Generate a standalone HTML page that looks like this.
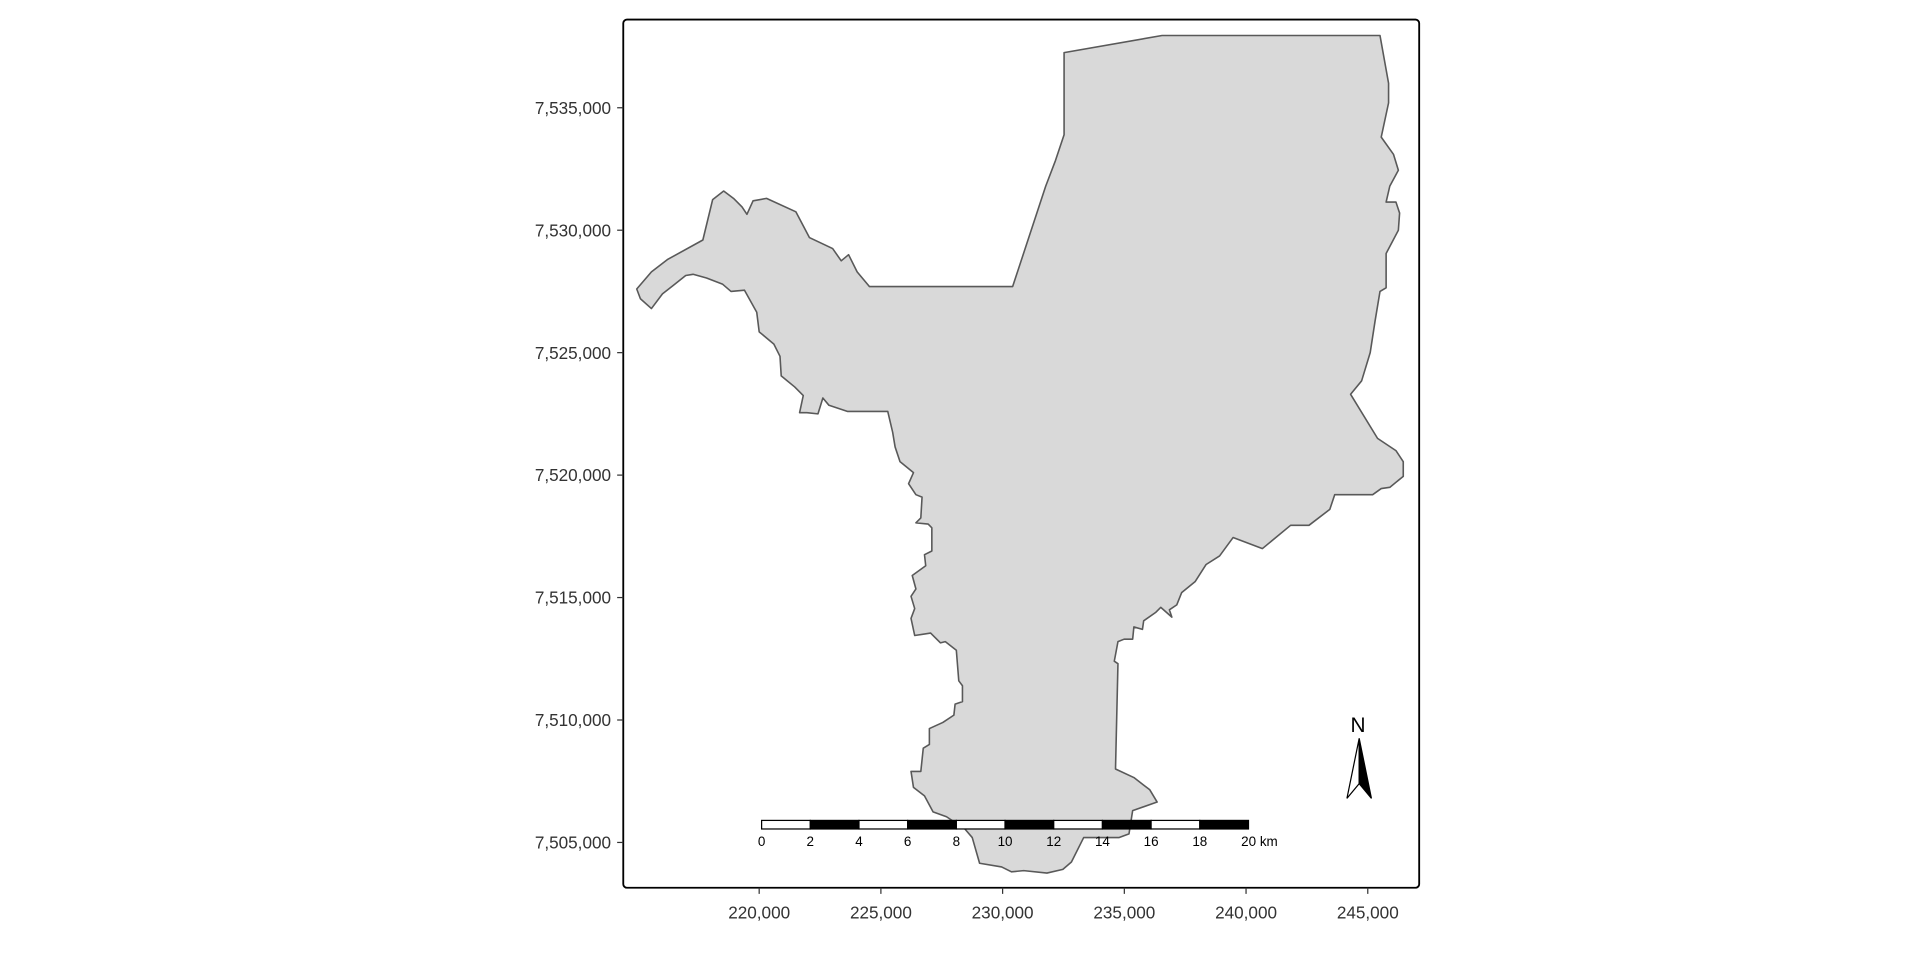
<!DOCTYPE html>
<html><head><meta charset="utf-8"><style>
html,body{margin:0;padding:0;background:#fff;}
svg{display:block;font-family:"Liberation Sans",Arial,sans-serif;}
</style></head><body>
<svg id="chart" width="1920" height="960" viewBox="0 0 1568 784" xmlns="http://www.w3.org/2000/svg">
<rect x="0" y="0" width="1568" height="784" fill="#fff"/>
<g id="map"></g>
<rect x="509" y="16" width="650" height="709" rx="3" fill="none" stroke="#000" stroke-width="1.5"/>
<g id="axes"></g>
<g id="scalebar"></g>
<g>
<text x="1109" y="598" font-size="17" text-anchor="middle" fill="#000">N</text>
<polygon points="1110,603 1100,652 1110,640" fill="#fff" stroke="#000" stroke-width="1"/>
<polygon points="1110,603 1120,652 1110,640" fill="#000" stroke="#000" stroke-width="1"/>
</g>
</svg>
<script>
const xTicks = [220000, 225000, 230000, 235000, 240000, 245000];
const yTicks = [7505000, 7510000, 7515000, 7520000, 7525000, 7530000, 7535000];
const scaleKm = [0, 2, 4, 6, 8, 10, 12, 14, 16, 18, 20];
const eastings = [232525,236549,245502,245854,245854,245552,246055,246257,245905,245754,246156,246307,246257,245754,245754,245502,245301,245100,244748,244295,245402,246156,246458,246458,245905,245552,245200,243641,243440,242585,241830,240673,239466,238913,238360,237907,237354,237152,236851,236951,236498,236297,235794,235744,235392,235342,234989,234738,234587,234738,234637,235392,236046,236348,235342,235191,234788,233330,232827,232474,231821,230865,230362,229959,229054,228752,228450,227696,227143,226791,226338,226237,226640,226740,226992,226992,227545,227998,228048,228350,228350,228199,228098,227646,227444,227042,226388,226237,226388,226237,226438,226288,226841,226791,227092,227092,226941,226438,226640,226690,226438,226137,226338,225785,225583,225483,225282,223622,222867,222616,222414,221962,221660,221811,221459,220905,220855,220604,220000,219899,219396,218843,218491,217837,217284,216982,216479,216026,215574,215121,214970,215574,216227,217686,218089,218541,218944,219296,219497,219748,220302,221509,222062,223018,223370,223672,224024,224527,228551,230412,231770,232173,232525];
const northings = [7537250,7537950,7537950,7536000,7535200,7533800,7533100,7532450,7531800,7531150,7531150,7530700,7530000,7529050,7527650,7527500,7526300,7525000,7523850,7523300,7521500,7521000,7520550,7519950,7519500,7519450,7519200,7519200,7518600,7517950,7517950,7517000,7517450,7516700,7516350,7515650,7515200,7514700,7514500,7514200,7514600,7514400,7514050,7513700,7513800,7513300,7513300,7513200,7512400,7512300,7508000,7507650,7507150,7506650,7506300,7505350,7505200,7505200,7504200,7503900,7503750,7503850,7503800,7504000,7504150,7505200,7505550,7506050,7506250,7506900,7507250,7507900,7507900,7508850,7509000,7509650,7509900,7510200,7510650,7510750,7511400,7511600,7512850,7513200,7513150,7513550,7513450,7514150,7514550,7515050,7515350,7515900,7516300,7516750,7516900,7517850,7518000,7518050,7518250,7519100,7519200,7519650,7520100,7520550,7521150,7521750,7522600,7522600,7522850,7523150,7522500,7522550,7522550,7523250,7523600,7524050,7524850,7525350,7525850,7526650,7527550,7527500,7527800,7528050,7528200,7528150,7527750,7527400,7526800,7527200,7527600,7528300,7528800,7529600,7531250,7531600,7531300,7530950,7530650,7531200,7531300,7530750,7529700,7529250,7528750,7529000,7528300,7527700,7527700,7527700,7531800,7532850,7533900,7534100];

const NS = 'http://www.w3.org/2000/svg';
const xMin = 214417, xMax = 247112, yMin = 7503150, yMax = 7538600;
const pL = 509, pR = 1159, pT = 16, pB = 725;
function sx(e){ return pL + (e - xMin) / (xMax - xMin) * (pR - pL); }
function sy(n){ return pB - (n - yMin) / (yMax - yMin) * (pB - pT); }
function mk(tag, attrs, parent){ const el = document.createElementNS(NS, tag); for (const k in attrs) el.setAttribute(k, attrs[k]); parent.appendChild(el); return el; }

const map = document.getElementById('map');
const pts = eastings.map((e,i)=> sx(e).toFixed(1)+','+sy(northings[i]).toFixed(1)).join(' ');
const poly = mk('polygon', {points: pts, fill:'#d9d9d9', stroke:'#595959', 'stroke-width':'1.3', 'stroke-linejoin':'round'}, map);



const axes = document.getElementById('axes');
xTicks.forEach(v=>{
  const x = sx(v);
  const t = mk('line', {x1:x, x2:x, y1:pB, y2:pB+5, stroke:'#333', 'stroke-width':'1'}, axes);
  
  
  const l = mk('text', {x:x, y:pB+25, 'font-size':'14', 'text-anchor':'middle', fill:'#333'}, axes);
  
  
  l.textContent = v.toLocaleString('en-US');
});
yTicks.forEach(v=>{
  const y = sy(v);
  const t = mk('line', {x1:pL-5, x2:pL, y1:y, y2:y, stroke:'#333', 'stroke-width':'1'}, axes);
  
  
  const l = mk('text', {x:pL-10, y:y+5, 'font-size':'14', 'text-anchor':'end', fill:'#333'}, axes);
  
  
  l.textContent = v.toLocaleString('en-US');
});

const sb = document.getElementById('scalebar');
const sbE0 = 220100, sbNTop = 7505900, sbNBot = 7505550;
for (let i = 0; i < scaleKm.length - 1; i++) {
  const x0 = sx(sbE0 + scaleKm[i]*1000), x1 = sx(sbE0 + scaleKm[i+1]*1000);
  const r = mk('rect', {x:x0, y:sy(sbNTop), width:x1-x0, height:sy(sbNBot)-sy(sbNTop), fill: i%2 ? '#000' : '#fff', stroke:'#000', 'stroke-width':'1'}, sb);
  
  
}
scaleKm.forEach((k,i)=>{
  const l = mk('text', {x:sx(sbE0 + k*1000), y:sy(sbNBot)+14, 'font-size':'11', 'text-anchor': i===scaleKm.length-1 ? 'start' : 'middle', fill:'#000'}, sb);
  if (i===scaleKm.length-1) l.setAttribute('x', sx(sbE0 + k*1000) - 6);
  
  
  l.textContent = i===scaleKm.length-1 ? k + ' km' : String(k);
});
</script>
</body></html>
